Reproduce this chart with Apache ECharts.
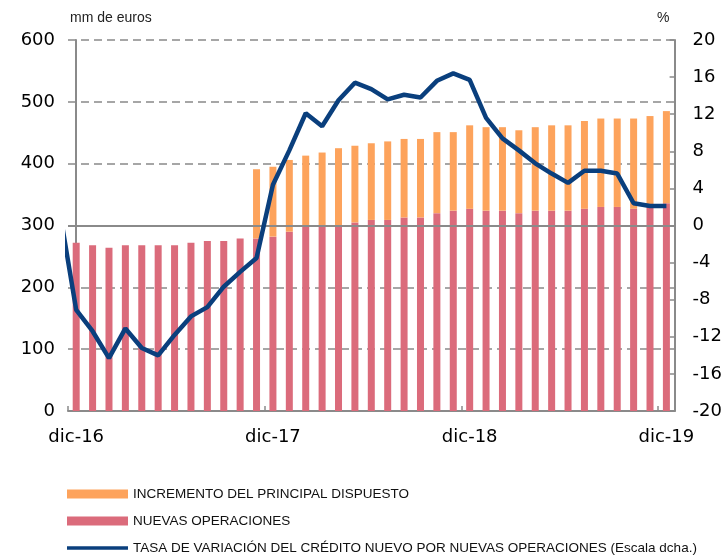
<!DOCTYPE html>
<html>
<head>
<meta charset="utf-8">
<script src="https://cdn.jsdelivr.net/npm/echarts@6/dist/echarts.min.js"></script>
<style>
  html, body { margin: 0; padding: 0; background: #fff; }
  #chart { width: 725px; height: 557px; }
</style>
</head>
<body>
<div id="chart"></div>
<script>
// monthly categories, dic-16 .. dic-19
const months = [
    'dic-16', 'ene-17', 'feb-17', 'mar-17', 'abr-17', 'may-17', 'jun-17', 'jul-17', 'ago-17', 'sep-17', 'oct-17', 'nov-17',
    'dic-17', 'ene-18', 'feb-18', 'mar-18', 'abr-18', 'may-18', 'jun-18', 'jul-18', 'ago-18', 'sep-18', 'oct-18', 'nov-18',
    'dic-18', 'ene-19', 'feb-19', 'mar-19', 'abr-19', 'may-19', 'jun-19', 'jul-19', 'ago-19', 'sep-19', 'oct-19', 'nov-19',
    'dic-19'
];

// nuevas operaciones (mm de euros)
const nuevasOperaciones = [
    272, 268, 264, 268, 268, 268, 268, 272, 275, 275, 279, 279,
    282, 290, 299, 300, 300, 305, 309, 309, 313, 313, 320, 324,
    327, 324, 324, 320, 324, 324, 324, 327, 330, 330, 327, 330,
    336
];

// incremento del principal dispuesto (on top of nuevas operaciones)
const incrementoPrincipal = [
    0, 0, 0, 0, 0, 0, 0, 0, 0, 0, 0, 112,
    113, 116, 114, 118, 125, 124, 124, 127, 127, 127, 131, 127,
    135, 135, 135, 134, 135, 138, 138, 142, 143, 143, 146, 147,
    149
];

// tasa de variación (%), first value is nov-16 (just left of the axis)
const tasaVariacion = [
    1.5,
    -9.1, -11.4, -14.3, -11.1, -13.2, -14.0, -11.8, -9.8, -8.8, -6.6, -5.0, -3.5,
    4.4, 8.1, 12.1, 10.7, 13.5, 15.4, 14.7, 13.6, 14.1, 13.8, 15.6, 16.4,
    15.7, 11.6, 9.4, 8.1, 6.7, 5.6, 4.6, 5.9, 5.9, 5.6, 2.4, 2.1,
    2.1
];

const leftTicks = { min: 0, max: 600, interval: 100 };
const rightTicks = { min: -20, max: 20, interval: 4 };

const names = [
    'INCREMENTO DEL PRINCIPAL DISPUESTO',
    'NUEVAS OPERACIONES',
    'TASA DE VARIACIÓN DEL CRÉDITO NUEVO POR NUEVAS OPERACIONES (Escala dcha.)'
];

const axisFont = 'DejaVu Sans, sans-serif';
const textFont = '"Liberation Sans", Arial, sans-serif';
const axisGray = '#8a8a8a';
const lineColor = '#0a3f7d';

let chart = echarts.init(document.getElementById('chart'), null, { renderer: 'canvas' });

let option = {
    animation: false,
    grid: { left: 68, right: 50, top: 40, bottom: 146, containLabel: false },
    legend: {
        orient: 'vertical',
        left: 62,
        top: 482,
        height: 80,
        itemWidth: 61,
        itemHeight: 9,
        itemGap: 13,
        symbolKeepAspect: true,
        selectedMode: false,
        data: [
            { name: names[0], icon: 'rect' },
            { name: names[1], icon: 'rect' },
            { name: names[2], icon: 'path://M0,0H61V3.5H0Z', itemStyle: { color: lineColor } }
        ],
        textStyle: { fontFamily: textFont, fontSize: 13.5, color: '#111', lineHeight: 14, padding: [0, 0, 0, 0] }
    },
    graphic: [
        { type: 'text', left: 70, top: 11, style: { text: 'mm de euros', font: '14px ' + textFont, fill: '#222' } },
        { type: 'text', left: 657, top: 11, style: { text: '%', font: '14px ' + textFont, fill: '#222' } }
    ],
    xAxis: [
        {
            type: 'category',
            data: months,
            boundaryGap: true,
            axisLine: { show: true, lineStyle: { color: axisGray, width: 2 } },
            axisTick: { show: true, inside: true, interval: 11, length: 5, lineStyle: { color: axisGray, width: 1.5 } },
            axisLabel: { interval: 11, margin: 17, fontFamily: axisFont, fontSize: 18, color: '#000' },
            splitLine: { show: false }
        },
        {
            type: 'value',
            min: -0.5,
            max: 36.5,
            show: false
        }
    ],
    yAxis: [
        {
            type: 'value',
            min: leftTicks.min,
            max: leftTicks.max,
            interval: leftTicks.interval,
            axisLine: { show: true, lineStyle: { color: axisGray, width: 2 } },
            axisTick: { show: false },
            axisLabel: { margin: 13, fontFamily: axisFont, fontSize: 18, color: '#000' },
            splitLine: { show: true, lineStyle: { color: '#a6a6a6', width: 2, type: [8, 5] } }
        },
        {
            type: 'value',
            min: rightTicks.min,
            max: rightTicks.max,
            interval: rightTicks.interval,
            position: 'right',
            axisLine: { show: true, lineStyle: { color: axisGray, width: 2 } },
            axisTick: { show: true, inside: true, length: 5, lineStyle: { color: axisGray, width: 1.5 } },
            axisLabel: { margin: 18, fontFamily: axisFont, fontSize: 18, color: '#000' },
            splitLine: { show: false }
        }
    ],
    series: [
        {
            name: names[1],
            type: 'bar',
            stack: 'total',
            barWidth: 7,
            data: nuevasOperaciones,
            itemStyle: { color: '#db6b7b' },
            markLine: {
                silent: true,
                symbol: 'none',
                label: { show: false },
                lineStyle: { color: axisGray, width: 2, type: 'solid' },
                data: [{ yAxis: 300 }]
            }
        },
        {
            name: names[0],
            type: 'bar',
            stack: 'total',
            barWidth: 7,
            data: incrementoPrincipal,
            itemStyle: { color: '#fda35c' }
        },
        {
            name: names[2],
            type: 'line',
            xAxisIndex: 1,
            yAxisIndex: 1,
            data: tasaVariacion.map((v, i) => [i - 1, v]),
            symbol: 'none',
            clip: true,
            z: 5,
            lineStyle: { color: lineColor, width: 4.5 },
            itemStyle: { color: lineColor }
        }
    ]
};

chart.setOption(option);
</script>
</body>
</html>
